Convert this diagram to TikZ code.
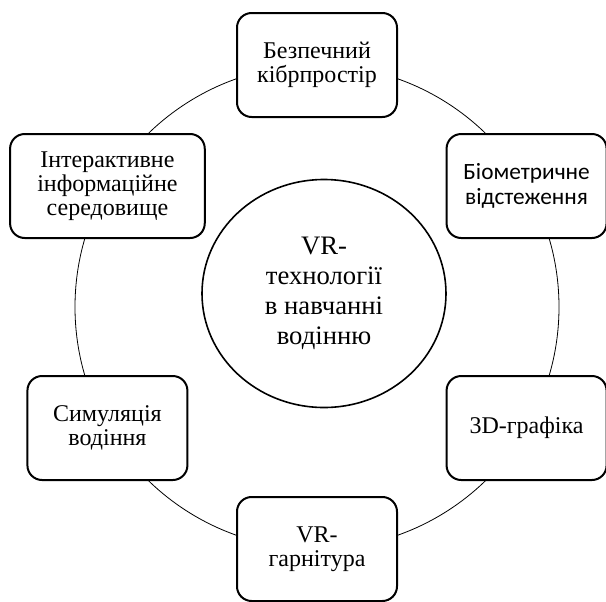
\documentclass[tikz,border=0pt]{standalone}
\usepackage{fontspec}
\setmainfont{Liberation Serif}
\newfontfamily\timesfont{Liberation Serif}
\newfontfamily\carlito{Carlito}
\usetikzlibrary{calc, shapes.geometric}
\tikzset{>=latex}

\begin{document}
\begin{tikzpicture}[
    x=0.75pt, y=0.75pt,
    topic/.style={draw,line width=1.5pt,rounded corners=11pt,fill=white,align=center,minimum width=120pt,minimum height=78pt,inner sep=2pt,font=\timesfont\fontsize{18}{18}\selectfont},
    hub/.style={ellipse,draw,line width=1.2pt,align=center,minimum width=183pt,minimum height=171pt,inner sep=0pt,font=\timesfont\fontsize{20}{22.5}\selectfont}
  ]

  \useasboundingbox (-317,-294) rectangle (289,307);

  \node (center) at (0,0) {};

    \def \radius {242}

    \draw[line width=0.6pt] (center.center) circle (\radius);

    \node[hub] (vr) at ($(center) + (7,13.5)$) {VR-\\технології\\в навчанні\\водінню};

    \node[topic] (cyber) at ($(center) + (90:\radius)$) {Безпечний\\кібрпростір};
    \node[topic,font=\carlito\fontsize{17.5}{19}\selectfont] (bio) at ($(center) + (30:\radius)$) {Біометричне\\відстеження};
    \node[topic] (graph) at ($(center) + (-30:\radius)$) {3D-графіка};
    \node[topic] (headset) at ($(center) + (-90:\radius)$) {VR-\\гарнітура};
    \node[topic] (sim) at ($(center) + (-150:\radius)$) {Симуляція\\водіння};
    \node[topic,minimum width=146pt] (info) at ($(center) + (150:\radius)$) {Інтерактивне\\інформаційне\\середовище};

\end{tikzpicture}
\end{document}
